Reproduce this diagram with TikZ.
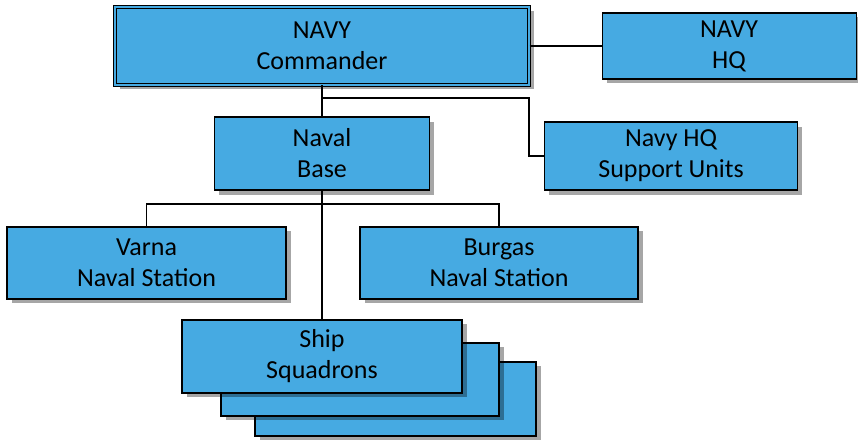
\documentclass[tikz,border=0pt]{standalone}
\usepackage{fontspec}
\setmainfont{Carlito}
\usepackage{xcolor}
\usetikzlibrary{positioning,shadows}

\definecolor{unitblue}{RGB}{70,170,226}

\begin{document}
\begin{tikzpicture}[
        x = 1pt,
        y = 1pt,
        unit/.style = {draw=black, fill=unitblue, line width=1.1pt,
            align=center, inner sep=0pt,
            font=\fontsize{26pt}{31pt}\selectfont,
            drop shadow={shadow xshift=4.5pt, shadow yshift=-4.5pt, fill=black, opacity=0.35}},
        chief/.style = {unit, line width=1pt, double=unitblue, double distance=2.4pt},
        link/.style = {draw=black, line width=1.1pt}]

        \useasboundingbox (0,0) rectangle (858,441);

        % NODES
        % top level
        \node[chief, minimum width=414pt, minimum height=78pt] (cmdr) at (322,395) {NAVY\\Commander};
        \node[unit, minimum width=254pt, minimum height=66pt, right=72pt of cmdr] (hq) {NAVY\\HQ};

        % second level
        \node[unit, minimum width=215pt, minimum height=73pt, below=31pt of cmdr] (base) {Naval\\Base};
        \node[unit, minimum width=253pt, minimum height=68pt, right=114pt of base, yshift=-2.5pt] (support) {Navy HQ\\Support Units};

        % stations
        \node[unit, minimum width=279pt, minimum height=72pt] (varna) at (146.5,178) {Varna\\Naval Station};
        \node[unit, minimum width=278pt, minimum height=72pt] (burgas) at (499,178) {Burgas\\Naval Station};

        % squadrons (stack)
        \node[unit, minimum width=281pt, minimum height=74pt] (ship_c) at (395.5,42) {};
        \node[unit, minimum width=278pt, minimum height=73pt] (ship_b) at (360,61.5) {};
        \node[unit, minimum width=280pt, minimum height=73pt] (ship) at (322,84.5) {Ship\\Squadrons};

        % bends
        \coordinate (bend_support) at (529,343);
        \coordinate (split) at (322,237);

        % ARROWS
        \draw[link] (cmdr)--(hq);
        \draw[link] (cmdr.south)--(base.north);
        \draw[link] (cmdr.south) |- (bend_support) |- (support.west);
        \draw[link] (base.south)--(ship.north);
        \draw[link] (varna.north) |- (split) -| (burgas.north);
\end{tikzpicture}
\end{document}
